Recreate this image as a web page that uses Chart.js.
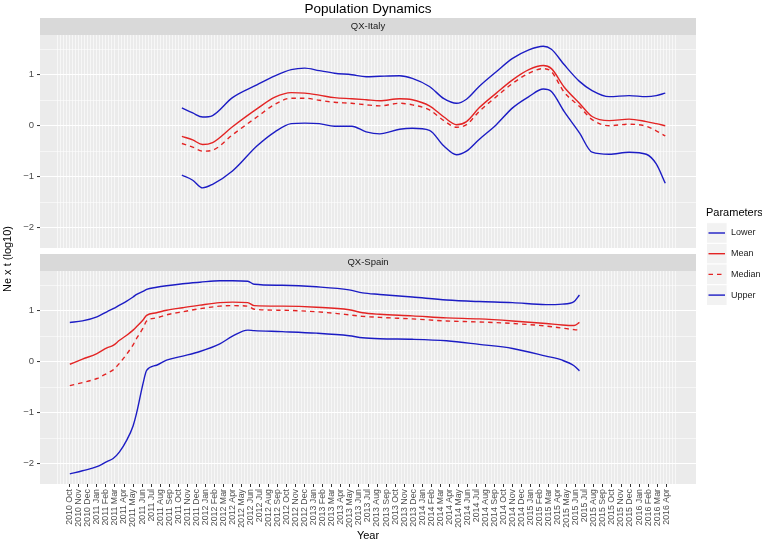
<!DOCTYPE html>
<html>
<head>
<meta charset="utf-8">
<script src="https://cdn.jsdelivr.net/npm/chart.js@4.4.1/dist/chart.umd.min.js"></script>
<style>
  html, body { margin: 0; padding: 0; background: #fff; }
  #wrap { position: relative; width: 762px; height: 543px; }
  #wrap canvas { position: absolute; left: 0; top: 0; }
</style>
</head>
<body>
<div id="wrap">
  <canvas id="italy" width="762" height="543"></canvas>
  <canvas id="spain" width="762" height="543"></canvas>
</div>
<script>
const FONT = '"Liberation Sans", Arial, Helvetica, sans-serif';

// x tick labels, one per month (index 0 = 2010 Oct)
const MONTHS = [
  '2010 Oct', '2010 Nov', '2010 Dec',
  '2011 Jan', '2011 Feb', '2011 Mar', '2011 Apr', '2011 May', '2011 Jun',
  '2011 Jul', '2011 Aug', '2011 Sep', '2011 Oct', '2011 Nov', '2011 Dec',
  '2012 Jan', '2012 Feb', '2012 Mar', '2012 Apr', '2012 May', '2012 Jun',
  '2012 Jul', '2012 Aug', '2012 Sep', '2012 Oct', '2012 Nov', '2012 Dec',
  '2013 Jan', '2013 Feb', '2013 Mar', '2013 Apr', '2013 May', '2013 Jun',
  '2013 Jul', '2013 Aug', '2013 Sep', '2013 Oct', '2013 Nov', '2013 Dec',
  '2014 Jan', '2014 Feb', '2014 Mar', '2014 Apr', '2014 May', '2014 Jun',
  '2014 Jul', '2014 Aug', '2014 Sep', '2014 Oct', '2014 Nov', '2014 Dec',
  '2015 Jan', '2015 Feb', '2015 Mar', '2015 Apr', '2015 May', '2015 Jun',
  '2015 Jul', '2015 Aug', '2015 Sep', '2015 Oct', '2015 Nov', '2015 Dec',
  '2016 Jan', '2016 Feb', '2016 Mar', '2016 Apr'
];
const Y_TICKS = [-2, -1.5, -1, -0.5, 0, 0.5, 1, 1.5];

// QX-Italy (x = months since 2010 Oct)
const italyX = [12.4, 13.6, 14.7, 15.8, 18.0, 20.7, 22.7, 24.5, 26.0, 27.6, 29.3, 31.2,
  32.8, 34.3, 36.5, 37.9, 39.8, 41.4, 42.8, 43.9, 45.3, 47.2, 49.0, 50.8, 52.4, 53.3,
  54.7, 56.4, 57.8, 59.7, 61.9, 63.8, 64.9, 65.9];
const italyLower = [-0.97, -1.07, -1.22, -1.15, -0.89, -0.40, -0.12, 0.04, 0.05, 0.04, -0.01, -0.01,
  -0.12, -0.16, -0.07, -0.05, -0.09, -0.40, -0.57, -0.50, -0.27, 0.02, 0.35, 0.57, 0.72, 0.67,
  0.28, -0.14, -0.52, -0.56, -0.52, -0.56, -0.75, -1.13];
const italyMean = [-0.21, -0.28, -0.37, -0.33, -0.02, 0.33, 0.56, 0.65, 0.64, 0.60, 0.55, 0.53,
  0.51, 0.49, 0.53, 0.51, 0.39, 0.17, 0.02, 0.08, 0.35, 0.64, 0.90, 1.10, 1.18, 1.12,
  0.76, 0.44, 0.18, 0.10, 0.13, 0.08, 0.04, 0.00];
const italyMedian = [-0.35, -0.42, -0.50, -0.48, -0.18, 0.17, 0.42, 0.54, 0.54, 0.50, 0.46, 0.44,
  0.41, 0.39, 0.44, 0.41, 0.31, 0.10, -0.03, 0.02, 0.28, 0.57, 0.83, 1.03, 1.12, 1.06,
  0.66, 0.38, 0.12, 0.00, 0.03, -0.01, -0.10, -0.20];
const italyUpper = [0.35, 0.25, 0.17, 0.20, 0.55, 0.80, 0.98, 1.10, 1.13, 1.08, 1.03, 1.00,
  0.96, 0.97, 0.98, 0.93, 0.77, 0.53, 0.44, 0.52, 0.77, 1.06, 1.32, 1.49, 1.56, 1.50,
  1.20, 0.87, 0.69, 0.57, 0.59, 0.57, 0.59, 0.64];

// QX-Spain
const spainX = [0, 1.4, 3.0, 4.1, 4.8, 5.5, 6.3, 7.0, 7.4, 8.1, 8.5, 9.6, 10.7, 12.5, 14.4, 16.6,
  18.0, 19.7, 20.4, 23.5, 27.3, 30.9, 32.4, 34.3, 37.9, 41.7, 45.3, 49.0, 52.7, 54.5, 55.8, 56.4];
const spainLower = [-2.20, -2.14, -2.06, -1.96, -1.90, -1.77, -1.54, -1.26, -1.00, -0.43, -0.17, -0.07,
  0.03, 0.11, 0.20, 0.35, 0.50, 0.62, 0.61, 0.59, 0.56, 0.51, 0.47, 0.45, 0.44, 0.41,
  0.34, 0.26, 0.11, 0.03, -0.08, -0.18];
const spainMean = [-0.05, 0.05, 0.16, 0.27, 0.32, 0.42, 0.52, 0.62, 0.69, 0.82, 0.91, 0.96,
  1.01, 1.06, 1.11, 1.16, 1.17, 1.16, 1.10, 1.09, 1.07, 1.02, 0.96, 0.93, 0.90, 0.86,
  0.84, 0.80, 0.75, 0.72, 0.71, 0.77];
const spainMedian = [-0.47, -0.41, -0.33, -0.23, -0.16, -0.03, 0.15, 0.33, 0.46, 0.66, 0.80, 0.86,
  0.92, 0.98, 1.04, 1.09, 1.10, 1.09, 1.03, 1.01, 0.98, 0.92, 0.89, 0.87, 0.84, 0.80,
  0.78, 0.75, 0.70, 0.66, 0.63, 0.62];
const spainUpper = [0.77, 0.80, 0.88, 0.98, 1.04, 1.11, 1.19, 1.27, 1.32, 1.38, 1.42, 1.46,
  1.49, 1.53, 1.56, 1.59, 1.59, 1.58, 1.52, 1.50, 1.47, 1.41, 1.35, 1.32, 1.27, 1.21,
  1.18, 1.16, 1.12, 1.13, 1.18, 1.31];

const BLUE = '#1c1cc4';
const RED = '#e32424';
const X_MIN = -3.3, X_MAX = 69.3;
const Y_MIN = -2.4, Y_MAX = 1.78;

Chart.defaults.font.family = FONT;

function pts(xs, ys) {
    return xs.map((x, i) => ({ x: x, y: ys[i] }));
}

function makeDatasets(xs, lower, mean, median, upper) {
    const base = { pointRadius: 0, borderWidth: 1.4, cubicInterpolationMode: 'monotone', fill: false };
    return [
        { ...base, label: 'Lower', data: pts(xs, lower), borderColor: BLUE },
        { ...base, label: 'Mean', data: pts(xs, mean), borderColor: RED },
        { ...base, label: 'Median', data: pts(xs, median), borderColor: RED, borderDash: [4.5, 4] },
        { ...base, label: 'Upper', data: pts(xs, upper), borderColor: BLUE }
    ];
}

// grey panel + facet strip
const panelPlugin = {
    id: 'panel',
    beforeDraw(chart, args, opts) {
        const { ctx, chartArea: a } = chart;
        ctx.save();
        ctx.fillStyle = '#EBEBEB';
        ctx.fillRect(a.left, a.top, a.right - a.left, a.bottom - a.top);
        ctx.fillStyle = '#D9D9D9';
        ctx.fillRect(a.left, a.top - 17, a.right - a.left, 17);
        ctx.fillStyle = '#1A1A1A';
        ctx.font = '9.5px ' + FONT;
        ctx.textAlign = 'center';
        ctx.textBaseline = 'middle';
        ctx.fillText(opts.label, (a.left + a.right) / 2, a.top - 8.5);
        ctx.restore();
    }
};

// title, axis titles and the shared legend
const pagePlugin = {
    id: 'page',
    afterDraw(chart) {
        const ctx = chart.ctx;
        ctx.save();
        ctx.fillStyle = '#000';
        ctx.textBaseline = 'alphabetic';
        ctx.textAlign = 'center';
        ctx.font = '13.5px ' + FONT;
        ctx.fillText('Population Dynamics', 368, 12.5);
        ctx.font = '11px ' + FONT;
        ctx.fillText('Year', 368, 539);

        ctx.save();
        ctx.translate(11, 259);
        ctx.rotate(-Math.PI / 2);
        ctx.fillText('Ne x t (log10)', 0, 0);
        ctx.restore();

        // legend
        ctx.textAlign = 'left';
        ctx.font = '11px ' + FONT;
        ctx.fillText('Parameters', 706, 216);
        ctx.font = '9px ' + FONT;
        ctx.textBaseline = 'middle';
        chart.data.datasets.forEach((ds, i) => {
            const cy = 233 + i * 20.7;
            ctx.fillStyle = '#F2F2F2';
            ctx.strokeStyle = '#fff';
            ctx.lineWidth = 1;
            ctx.fillRect(706.5, cy - 10.35, 20.6, 20.7);
            ctx.strokeRect(706.5, cy - 10.35, 20.6, 20.7);
            ctx.beginPath();
            ctx.setLineDash(ds.borderDash || []);
            ctx.strokeStyle = ds.borderColor;
            ctx.lineWidth = 1.4;
            ctx.moveTo(708.5, cy);
            ctx.lineTo(725, cy);
            ctx.stroke();
            ctx.setLineDash([]);
            ctx.fillStyle = '#1A1A1A';
            ctx.fillText(ds.label, 731, cy);
        });
        ctx.restore();
    }
};

function xGridTicks(scale) {
    // dense vertical grid, labelled only at whole months
    const t = [];
    for (let i = -4; i <= 201; i++) t.push({ value: i / 3 });
    scale.ticks = t;
}

function yScale() {
    return {
        type: 'linear',
        min: Y_MIN,
        max: Y_MAX,
        afterBuildTicks: (s) => { s.ticks = Y_TICKS.map(v => ({ value: v })); },
        afterFit: (s) => { s.width = 40; },
        border: { display: false },
        grid: {
            color: '#ffffff',
            lineWidth: (c) => Number.isInteger(c.tick.value) ? 1.1 : 0.55,
            tickLength: 3,
            tickColor: (c) => Number.isInteger(c.tick.value) ? '#333333' : 'rgba(0,0,0,0)',
            tickWidth: 1
        },
        ticks: {
            padding: 3,
            color: '#4D4D4D',
            font: { size: 9.5 },
            callback: (v) => Number.isInteger(v) ? String(v).replace('-', '\u2212') : ''
        }
    };
}

function xScale(showLabels) {
    return {
        type: 'linear',
        min: X_MIN,
        max: X_MAX,
        afterBuildTicks: xGridTicks,
        afterFit: (s) => { s.height = showLabels ? 59 : 0; },
        border: { display: false },
        grid: {
            color: '#ffffff',
            lineWidth: 0.6,
            drawTicks: showLabels,
            tickLength: 3,
            tickColor: (c) => Number.isInteger(c.tick.value) && c.tick.value >= 0 && c.tick.value < MONTHS.length ? '#333333' : 'rgba(0,0,0,0)',
            tickWidth: 1
        },
        ticks: {
            display: showLabels,
            autoSkip: false,
            minRotation: 90,
            maxRotation: 90,
            padding: 2,
            color: '#4D4D4D',
            font: { size: 8.8 },
            callback: (v) => (Number.isInteger(v) && MONTHS[v]) ? MONTHS[v] : ''
        }
    };
}

function makeChart(id, label, datasets, padding, showX, extraPlugins) {
    return new Chart(document.getElementById(id), {
        type: 'line',
        data: { datasets: datasets },
        options: {
            responsive: false,
            animation: false,
            events: [],
            layout: { padding: padding },
            scales: { x: xScale(showX), y: yScale() },
            plugins: {
                legend: { display: false },
                tooltip: { enabled: false },
                panel: { label: label }
            }
        },
        plugins: [panelPlugin].concat(extraPlugins)
    });
}

makeChart('italy', 'QX-Italy',
    makeDatasets(italyX, italyLower, italyMean, italyMedian, italyUpper),
    { left: 0, right: 66, top: 35, bottom: 295 }, false, []);

makeChart('spain', 'QX-Spain',
    makeDatasets(spainX, spainLower, spainMean, spainMedian, spainUpper),
    { left: 0, right: 66, top: 271, bottom: 0 }, true, [pagePlugin]);
</script>
</body>
</html>
